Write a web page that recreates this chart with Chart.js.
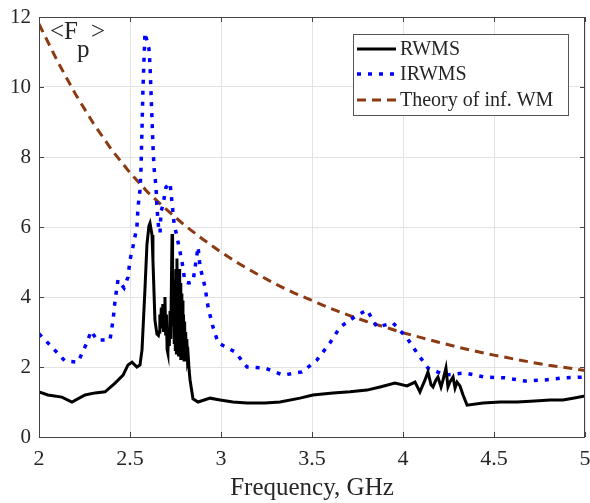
<!DOCTYPE html>
<html>
<head>
<meta charset="utf-8">
<script src="https://cdn.jsdelivr.net/npm/chart.js@4.4.1/dist/chart.umd.min.js"></script>
<style>
  html, body { margin: 0; padding: 0; background: #fff; }
</style>
</head>
<body>
<canvas id="c" width="590" height="503"></canvas>
<script>
// ---- data (frequency in GHz, <Fp>) ----
const rwFreq = [2.000, 2.049, 2.126, 2.181, 2.253, 2.308, 2.363, 2.418, 2.462, 2.489, 2.511, 2.538, 2.555,
  2.566, 2.582, 2.593, 2.604, 2.610, 2.621, 2.626, 2.637, 2.648, 2.656,
  2.660, 2.664, 2.668, 2.672, 2.676, 2.680, 2.684, 2.688, 2.692, 2.696, 2.700, 2.704, 2.708, 2.712,
  2.716, 2.720, 2.724, 2.728, 2.731, 2.734, 2.737, 2.740, 2.743, 2.746, 2.749, 2.752, 2.755, 2.758,
  2.761, 2.764, 2.767, 2.770, 2.773, 2.776, 2.779, 2.782, 2.785, 2.788, 2.791, 2.794, 2.797, 2.800,
  2.803, 2.806, 2.809, 2.812, 2.816, 2.820, 2.825,
  2.830, 2.846, 2.874, 2.940, 2.995, 3.066, 3.143, 3.242, 3.324, 3.434, 3.505, 3.615, 3.709, 3.802, 3.874,
  3.956, 4.022, 4.066, 4.093, 4.121, 4.137, 4.154, 4.165, 4.181, 4.192, 4.209, 4.220, 4.236, 4.247, 4.258,
  4.275, 4.286, 4.297, 4.313, 4.330, 4.352, 4.440, 4.533, 4.626, 4.725, 4.808, 4.879, 4.934, 5.000];
const rwVal = [1.29, 1.20, 1.14, 1.00, 1.20, 1.26, 1.29, 1.54, 1.77, 2.06, 2.14, 2.00, 2.06,
  2.49, 4.20, 5.49, 6.03, 6.11, 5.77, 5.06, 3.34, 2.94, 2.90,
  3.00, 3.50, 3.10, 3.70, 3.20, 3.80, 3.00, 3.40, 4.00, 2.90, 3.50, 2.50, 2.40, 3.00,
  2.60, 3.60, 2.80, 4.60, 5.80, 4.90, 3.20, 4.40, 2.70, 4.50, 2.50, 4.80, 2.40, 5.10,
  2.40, 4.70, 2.30, 4.80, 2.30, 4.40, 2.20, 4.10, 2.30, 3.90, 2.20, 3.50, 2.20, 3.30,
  2.20, 3.00, 2.20, 2.80, 2.20, 2.30, 1.90,
  1.63, 1.09, 1.00, 1.11, 1.06, 1.00, 0.97, 0.97, 1.00, 1.11, 1.20, 1.26, 1.29, 1.34, 1.43,
  1.54, 1.46, 1.57, 1.29, 1.63, 1.86, 1.49, 1.43, 1.63, 1.71, 1.43, 1.63, 1.97, 1.43, 1.57,
  1.71, 1.40, 1.57, 1.46, 1.20, 0.91, 0.97, 1.00, 1.00, 1.03, 1.06, 1.06, 1.11, 1.17];

const irFreq = [2.000, 2.071, 2.143, 2.214, 2.264, 2.286, 2.319, 2.390, 2.407, 2.418, 2.434, 2.467, 2.489,
  2.500, 2.516, 2.538, 2.544, 2.555, 2.560, 2.566, 2.571, 2.577, 2.580, 2.582, 2.604, 2.610, 2.615, 2.621,
  2.626, 2.632, 2.643, 2.648, 2.659, 2.665, 2.670, 2.681, 2.698, 2.720, 2.731, 2.742, 2.764, 2.786, 2.802,
  2.824, 2.846, 2.874, 2.885, 2.912, 2.929, 2.956, 2.984, 3.077, 3.143, 3.242, 3.341, 3.445, 3.527, 3.599,
  3.654, 3.725, 3.802, 3.857, 3.945, 4.022, 4.077, 4.137, 4.231, 4.341, 4.451, 4.560, 4.670, 4.780, 4.879,
  4.989, 5.000];
const irVal = [2.95, 2.57, 2.17, 2.14, 2.70, 3.03, 2.77, 2.77, 3.34, 3.90, 4.49, 4.26, 4.57,
  5.06, 5.43, 6.00, 6.57, 7.06, 7.60, 8.80, 9.90, 10.8, 11.2, 11.55, 11.1, 10.6, 9.90, 9.06,
  8.34, 7.70, 7.14, 6.57, 5.86, 5.83, 6.43, 6.63, 7.14, 7.26, 6.69, 6.11, 5.57, 5.00, 4.43,
  4.40, 4.43, 5.43, 4.86, 4.29, 3.71, 3.14, 2.69, 2.43, 2.00, 1.97, 1.77, 1.86, 2.20, 2.69,
  3.14, 3.40, 3.63, 3.14, 3.26, 2.83, 2.40, 1.97, 1.77, 1.83, 1.71, 1.69, 1.60, 1.63, 1.69,
  1.71, 1.78];

const thFreq = [2.0, 2.1, 2.2, 2.3, 2.4, 2.5, 2.6, 2.7, 2.8, 2.9, 3.0, 3.1, 3.2, 3.3, 3.4, 3.5,
  3.6, 3.7, 3.8, 3.9, 4.0, 4.1, 4.2, 4.3, 4.4, 4.5, 4.6, 4.7, 4.8, 4.9, 5.0];
const thVal = [11.8, 10.75, 9.8, 8.95, 8.2, 7.55, 6.98, 6.5, 6.05, 5.65, 5.28, 4.95, 4.65, 4.37, 4.12, 3.9,
  3.68, 3.48, 3.3, 3.14, 2.98, 2.84, 2.7, 2.57, 2.45, 2.34, 2.24, 2.14, 2.05, 1.98, 1.9];

const xTicks = [2, 2.5, 3, 3.5, 4, 4.5, 5];
const yTicks = [0, 2, 4, 6, 8, 10, 12];
const seriesNames = ["RWMS", "IRWMS", "Theory of inf. WM"];

const pts = (xs, ys) => xs.map((x, i) => ({ x, y: ys[i] }));
const SERIF = "'Liberation Serif', 'Times New Roman', serif";
const INK = "#262626";

Chart.defaults.font.family = SERIF;
Chart.defaults.color = INK;

// box, inward ticks, <Fp> label, legend
const frame = {
  id: "frame",
  afterDatasetsDraw(chart) {
    const { ctx, chartArea: a, scales: { x, y } } = chart;
    ctx.save();
    ctx.strokeStyle = "#444";
    ctx.lineWidth = 1;
    ctx.strokeRect(a.left + 0.5, a.top + 0.5, a.right - a.left - 1, a.bottom - a.top);
    ctx.beginPath();
    xTicks.forEach(v => {
      const px = Math.round(x.getPixelForValue(v)) + 0.5;
      ctx.moveTo(px, a.bottom); ctx.lineTo(px, a.bottom - 5);
      ctx.moveTo(px, a.top); ctx.lineTo(px, a.top + 5);
    });
    yTicks.forEach(v => {
      const py = Math.round(y.getPixelForValue(v)) + 0.5;
      ctx.moveTo(a.left, py); ctx.lineTo(a.left + 5, py);
      ctx.moveTo(a.right, py); ctx.lineTo(a.right - 5, py);
    });
    ctx.stroke();

    // <Fp>
    ctx.fillStyle = INK;
    ctx.font = "25px " + SERIF;
    ctx.textBaseline = "middle";
    ctx.textAlign = "left";
    ctx.fillText("<F", a.left + 11, a.top + 15);
    ctx.fillText(">", a.left + 52, a.top + 15);
    ctx.fillText("p", a.left + 38, a.top + 33);

    // legend
    const L = a.right - 232, T = a.top + 17, W = 215, H = 81;
    ctx.fillStyle = "#fff";
    ctx.fillRect(L, T, W, H);
    ctx.strokeStyle = "#555";
    ctx.strokeRect(L + 0.5, T + 0.5, W, H);
    ctx.font = "20px " + SERIF;
    const rows = [T + 15, T + 40, T + 66];
    chart.data.datasets.forEach((ds, i) => {
      ctx.beginPath();
      ctx.strokeStyle = ds.borderColor;
      ctx.lineWidth = ds.borderWidth;
      ctx.setLineDash(ds.borderDash || []);
      ctx.moveTo(L + 4, rows[i]); ctx.lineTo(L + 43, rows[i]);
      ctx.stroke();
      ctx.setLineDash([]);
      ctx.fillStyle = INK;
      ctx.fillText(ds.label, L + 47, rows[i] + 1);
    });
    ctx.restore();
  }
};

new Chart(document.getElementById("c"), {
  type: "line",
  data: {
    datasets: [
      { label: seriesNames[0], data: pts(rwFreq, rwVal), borderColor: "#000", borderWidth: 3 },
      { label: seriesNames[1], data: pts(irFreq, irVal), borderColor: "#0000ff", borderWidth: 3.5, borderDash: [4, 7] },
      { label: seriesNames[2], data: pts(thFreq, thVal), borderColor: "#8b3a12", borderWidth: 3, borderDash: [9, 6] }
    ]
  },
  options: {
    responsive: false,
    animation: false,
    layout: { padding: { left: 0, right: 5, top: 17, bottom: 0 } },
    elements: { point: { radius: 0 }, line: { tension: 0, borderCapStyle: "butt" } },
    plugins: { legend: { display: false }, tooltip: { enabled: false } },
    scales: {
      x: {
        type: "linear", min: 2, max: 5,
        afterBuildTicks: s => { s.ticks = xTicks.map(v => ({ value: v })); },
        afterFit: s => { s.height = 66; s.paddingLeft = 0; s.paddingRight = 0; },
        ticks: { font: { size: 22 }, padding: 9, color: INK, maxRotation: 0, callback: v => String(v) },
        grid: { color: "#e3e3e3", drawTicks: false },
        border: { display: false },
        title: { display: true, text: "Frequency, GHz", font: { size: 25 }, color: INK, padding: { top: 3, bottom: 0 } }
      },
      y: {
        min: 0, max: 12,
        afterBuildTicks: s => { s.ticks = yTicks.map(v => ({ value: v })); },
        afterFit: s => { s.width = 39; s.paddingTop = 0; s.paddingBottom = 0; },
        ticks: { font: { size: 21 }, padding: 8, color: INK },
        grid: { color: "#e3e3e3", drawTicks: false },
        border: { display: false }
      }
    }
  },
  plugins: [frame]
});
</script>
</body>
</html>
